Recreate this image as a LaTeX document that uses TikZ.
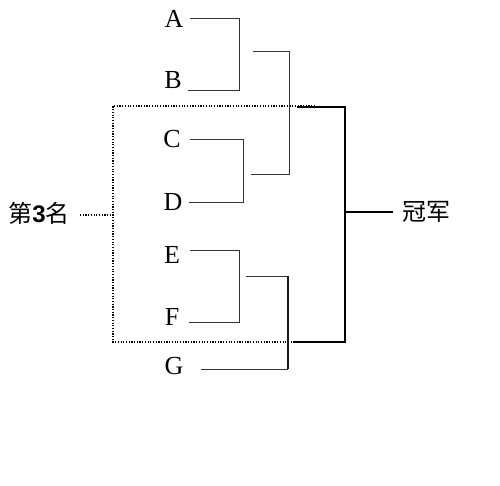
\documentclass[tikz,border=0pt]{standalone}
\usepackage{fontspec}
\setmainfont{Liberation Serif}
\newfontfamily\cjk{Noto Sans CJK SC}
\newfontfamily\sansb{Liberation Sans}
\begin{document}
\begin{tikzpicture}[x=1pt,y=-1pt,
  lab/.style={font=\fontsize{26}{26}\selectfont, inner sep=0pt},
  cjklab/.style={font=\cjk\fontsize{24}{24}\selectfont, inner sep=0pt},
  tline/.style={line width=1pt, black!80},
  bline/.style={line width=2pt, black},
  mline/.style={line width=1.5pt, black!90},
  dline/.style={line width=1.3pt, dash pattern=on 1.2pt off 1.5pt, black}]
\useasboundingbox (0,0) rectangle (500,486);
% labels
\node[lab] (A) at (174,19) {A};
\node[lab] (B) at (173,80.5) {B};
\node[lab] (C) at (172,139.5) {C};
\node[lab] (D) at (173,202) {D};
\node[lab] (E) at (172,255) {E};
\node[lab] (F) at (172,317) {F};
\node[lab] (G) at (174,366.5) {G};
\node[cjklab] (champ) at (426,212) {冠军};
\node[cjklab] (third) at (39,213) {第{\sansb\bfseries 3}名};
% bracket coordinates
\coordinate (a1) at (190,19);
\coordinate (b1) at (188,91);
\coordinate (ab) at (239.5,19);
\coordinate (ab2) at (239.5,91);
\coordinate (c1) at (190,139.5);
\coordinate (d1) at (189,202.5);
\coordinate (cd) at (243.5,139.5);
\coordinate (cd2) at (243.5,202.5);
\coordinate (abo) at (252.5,52);
\coordinate (cdo) at (250.5,174.5);
\coordinate (abcd) at (289,52);
\coordinate (abcd2) at (289,174.5);
\coordinate (e1) at (190,250.5);
\coordinate (f1) at (189,322.5);
\coordinate (ef) at (239.5,250.5);
\coordinate (ef2) at (239.5,322.5);
\coordinate (efo) at (245.5,276);
\coordinate (g1) at (200.5,369);
\coordinate (efg) at (288,276);
\coordinate (efg2) at (288,369);
\coordinate (t1) at (297,107);
\coordinate (t2) at (345,107);
\coordinate (t3) at (345,342);
\coordinate (t4) at (293,342);
\coordinate (tm) at (345,212);
\coordinate (ch) at (393,212);
\coordinate (r1) at (315,106);
\coordinate (r2) at (113,106);
\coordinate (r3) at (113,342);
\coordinate (r4) at (293,342);
\coordinate (l1) at (80,215);
\coordinate (l2) at (111,215);
% dotted group
\draw[dline] (r1) -- (r2) -- (r3) -- (r4);
\draw[dline] (l1) -- (l2);
% brackets
\draw[tline] (a1) -- (ab) -- (ab2) -- (b1);
\draw[tline] (c1) -- (cd) -- (cd2) -- (d1);
\draw[tline] (abo) -- (abcd) -- (abcd2) -- (cdo);
\draw[tline] (e1) -- (ef) -- (ef2) -- (f1);
\draw[tline] (efo) -- (efg);
\draw[mline] (efg) -- (efg2);
\draw[tline] (efg2) -- (g1);
\draw[bline] (t1) -- (t2) -- (t3) -- (t4);
\draw[bline] (tm) -- (ch);
\end{tikzpicture}
\end{document}
